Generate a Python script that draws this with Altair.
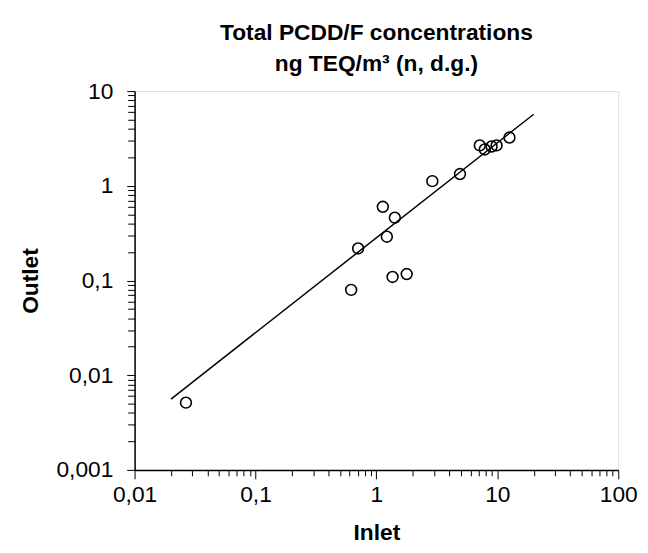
import altair as alt
import pandas as pd

# Data
inlet = [0.0266, 0.618, 0.706, 1.13, 1.22, 1.36, 1.42, 1.78, 2.90, 4.91, 7.16, 7.87, 8.97, 9.86, 12.6]
outlet = [0.00513, 0.0796, 0.218, 0.60, 0.29, 0.109, 0.46, 0.117, 1.12, 1.33, 2.67, 2.42, 2.60, 2.67, 3.23]
fit_x = [0.02, 20]
fit_y = [0.0056, 5.7]

x_decades = [0.01, 0.1, 1, 10]
y_decades = [0.001, 0.01, 0.1, 1]
x_ticks = [round(m * d, 6) for d in x_decades for m in range(1, 10)] + [100]
y_ticks = [round(m * d, 6) for d in y_decades for m in range(1, 10)] + [10]

FONT = "Liberation Sans"
is_major = "abs(log(datum.value)/LN10 - round(log(datum.value)/LN10)) < 1e-6"
label_expr = "(" + is_major + ") ? replace(toString(datum.value), '.', ',') : ''"

pts = pd.DataFrame({"Inlet": inlet, "Outlet": outlet})
fit = pd.DataFrame({"Inlet": fit_x, "Outlet": fit_y})

xscale = alt.Scale(type="log", domain=[0.01, 100], nice=False)
yscale = alt.Scale(type="log", domain=[0.001, 10], nice=False)

xaxis = alt.Axis(
    title="Inlet", values=x_ticks, labelExpr=label_expr, grid=False,
    domainColor="black", domainWidth=1.5, tickColor="black", tickWidth=1,
    tickSize={"condition": {"test": is_major, "value": 9}, "value": 6},
    labelFont=FONT, labelFontSize=23, labelColor="black", labelPadding=5,
    labelOverlap=False, labelFlush=False,
    titleFont=FONT, titleFontSize=23, titleFontWeight="bold", titleColor="black",
    titlePadding=15,
)
yaxis = alt.Axis(
    title="Outlet", values=y_ticks, labelExpr=label_expr, grid=False,
    domainColor="black", domainWidth=1.5, tickColor="black", tickWidth=1,
    tickSize={"condition": {"test": is_major, "value": 8}, "value": 7},
    labelFont=FONT, labelFontSize=23, labelColor="black", labelPadding=14,
    labelOverlap=False, labelFlush=False, labelBaseline="middle",
    titleFont=FONT, titleFontSize=23, titleFontWeight="bold", titleColor="black",
    titlePadding=14,
)

line = alt.Chart(fit).mark_line(color="black", strokeWidth=1.5).encode(
    x=alt.X("Inlet:Q", scale=xscale, axis=xaxis),
    y=alt.Y("Outlet:Q", scale=yscale, axis=yaxis),
)
points = alt.Chart(pts).mark_point(
    shape="circle", filled=False, color="black", size=120, strokeWidth=1.6, opacity=1
).encode(
    x=alt.X("Inlet:Q", scale=xscale),
    y=alt.Y("Outlet:Q", scale=yscale),
)

chart = alt.layer(line, points).properties(
    width=489, height=383,
    title=alt.Title(
        ["Total PCDD/F concentrations", "ng TEQ/m³ (n, d.g.)"],
        font=FONT, fontSize=23, fontWeight="bold", color="black",
        lineHeight=32, offset=4, anchor="middle",
    ),
    autosize=alt.AutoSizeParams(type="none"),
    padding={"left": 128, "top": 81, "right": 22, "bottom": 80},
).configure_view(stroke="#808080", strokeWidth=1.5).configure(background="white")

chart.save("out.html", embed_options={"renderer": "svg", "actions": False})
